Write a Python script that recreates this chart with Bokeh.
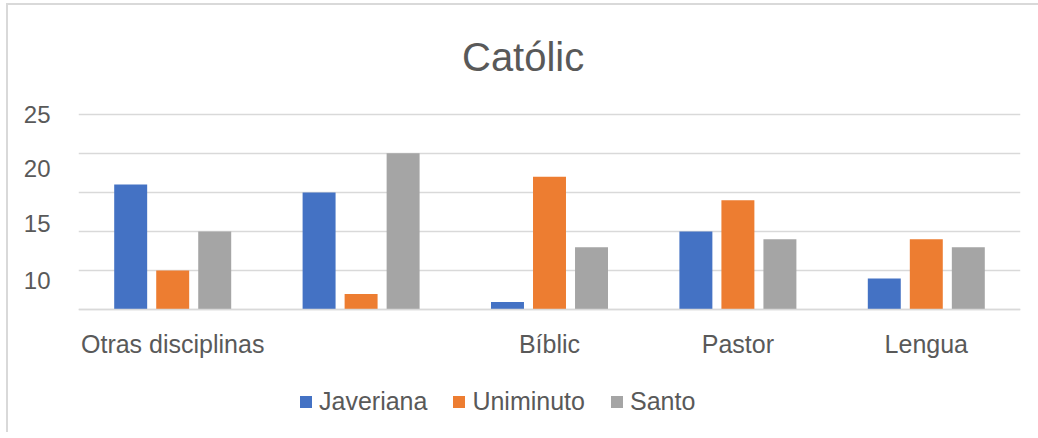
from bokeh.plotting import figure
from bokeh.models import (ColumnDataSource, FactorRange, FixedTicker, Legend, LegendItem, Range1d, Label)
from bokeh.transform import dodge
from bokeh.embed import file_html
from bokeh.resources import INLINE

title_text = "Católic"
categories = ["Otras disciplinas", " ", "Bíblic", "Pastor", "Lengua"]
javeriana = [16, 15, 1, 10, 4]
uniminuto = [5, 2, 17, 14, 9]
santo = [10, 20, 8, 9, 8]
series_names = ["Javeriana", "Uniminuto", "Santo"]
ytick_labels = ["25", "20", "15", "10"]
ytick_pos = [24.9, 18.1, 11.0, 3.8]
grid_values = [0, 5, 10, 15, 20, 25]

src = ColumnDataSource(dict(cat=categories, jav=javeriana, uni=uniminuto, san=santo))

FONT = "Liberation Sans"
TXT = "#595959"
GRID = "#d9d9d9"

p = figure(frame_width=942, frame_height=427,
           x_range=FactorRange(factors=categories, range_padding=0),
           y_range=Range1d(-15.7, 38.9), output_backend="svg", toolbar_location=None,
           min_border_left=70, min_border_right=18, min_border_top=0, min_border_bottom=0)
p.styles = {"margin-left": "6px", "margin-top": "3px",
            "border-left": "2px solid #d9d9d9", "border-top": "2px solid #d9d9d9"}

p.add_layout(Label(x=2.36, y=32.3, text=title_text, text_align="center", text_baseline="middle",
                   text_font=FONT, text_font_size="40px", text_color=TXT))

colors = ["#4472C4", "#ED7D31", "#A5A5A5"]
fields = ["jav", "uni", "san"]
offs = [-0.223, 0.0, 0.223]
renderers = []
for f, c, o in zip(fields, colors, offs):
    r = p.vbar(x=dodge("cat", o, range=p.x_range), top=f, width=0.175, source=src,
               fill_color=c, line_color=None)
    renderers.append(r)

p.outline_line_color = None
p.xgrid.grid_line_color = None
p.ygrid.ticker = FixedTicker(ticks=grid_values)
p.ygrid.grid_line_color = GRID
p.ygrid.grid_line_width = 1.5

p.yaxis.ticker = FixedTicker(ticks=ytick_pos)
p.yaxis.major_label_overrides = {v: t for v, t in zip(ytick_pos, ytick_labels)}
p.yaxis.axis_line_color = None
p.yaxis.major_tick_line_color = None
p.yaxis.minor_tick_line_color = None
p.yaxis.major_label_text_font = FONT
p.yaxis.major_label_text_font_size = "24px"
p.yaxis.major_label_text_color = TXT
p.yaxis.major_label_standoff = 22

p.xaxis.fixed_location = 0
p.xaxis.axis_line_color = GRID
p.xaxis.axis_line_width = 1.5
p.xaxis.major_tick_line_color = None
p.xaxis.minor_tick_line_color = None
p.xaxis.major_label_text_font = FONT
p.xaxis.major_label_text_font_size = "25px"
p.xaxis.major_label_text_color = TXT
p.xaxis.major_label_standoff = 14

legend = Legend(items=[LegendItem(label=n, renderers=[r]) for n, r in zip(series_names, renderers)],
                orientation="horizontal", location=(220, 16))
legend.label_text_font = FONT
legend.label_text_font_size = "25px"
legend.label_text_color = TXT
legend.glyph_width = 15
legend.glyph_height = 15
legend.label_standoff = 6
legend.spacing = 24
legend.border_line_color = None
legend.background_fill_alpha = 0
legend.margin = 0
legend.padding = 0
p.add_layout(legend, "center")

open("out.html", "w").write(file_html(p, INLINE))
